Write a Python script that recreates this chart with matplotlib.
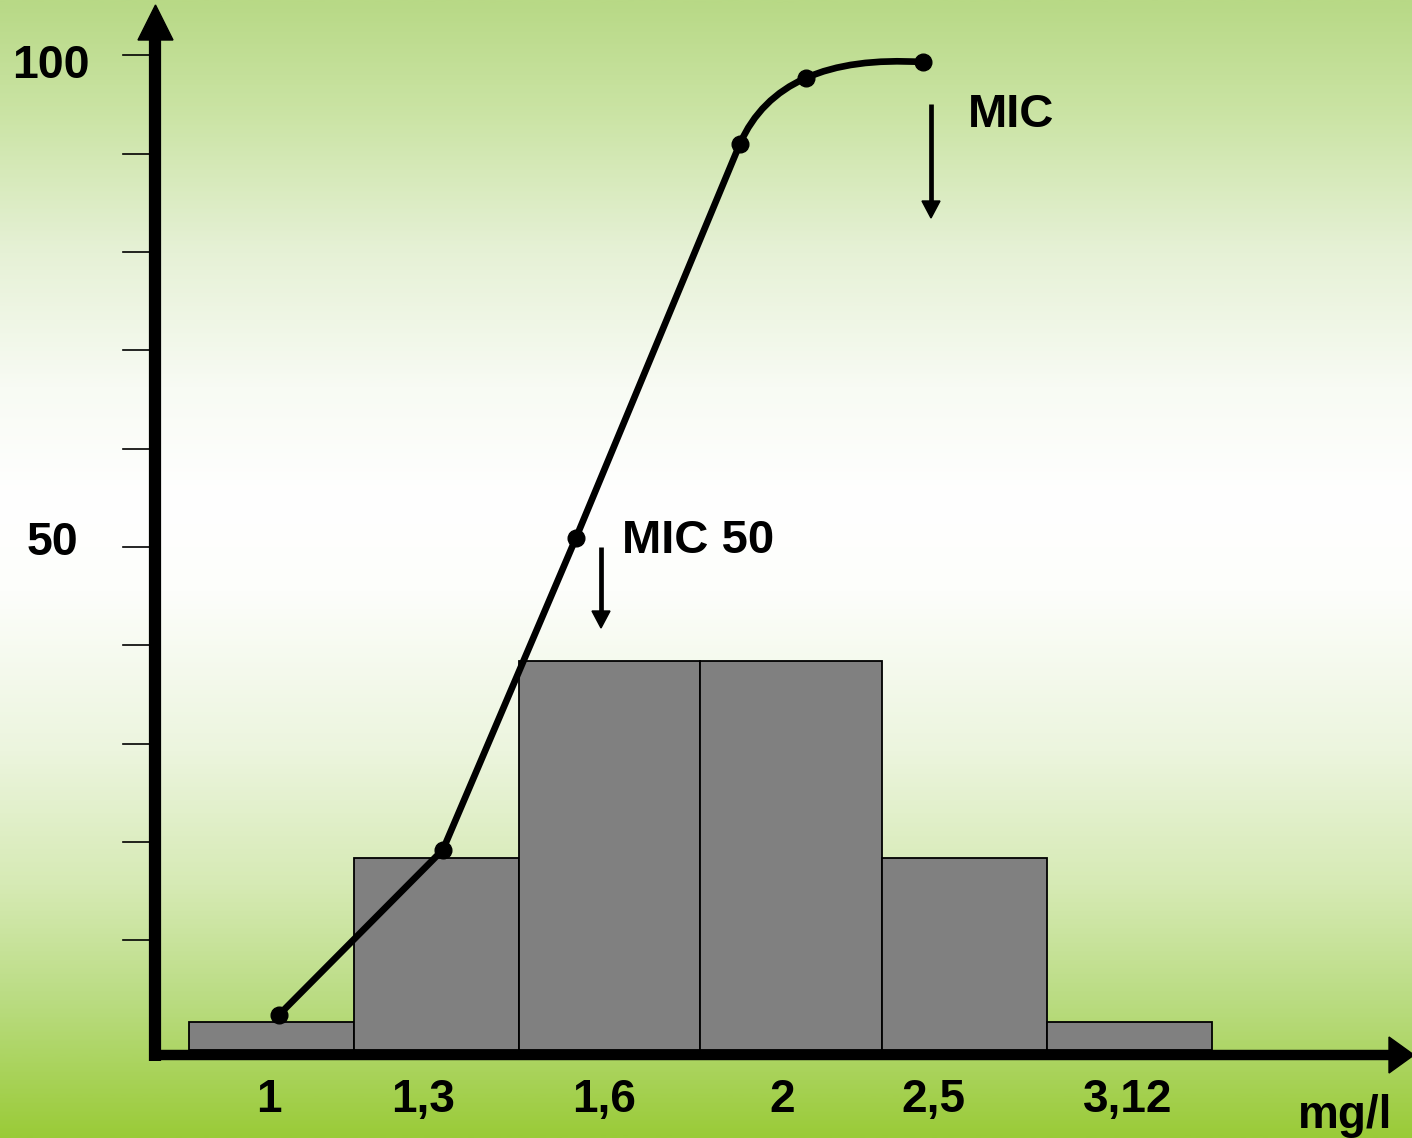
import numpy as np
import matplotlib
matplotlib.use("Agg")
import matplotlib.pyplot as plt
from matplotlib.path import Path
from matplotlib.patches import PathPatch
from matplotlib.colors import LinearSegmentedColormap

# ---------------- data ----------------
bin_edges = [0, 1, 2, 3.1, 4.2, 5.2, 6.2]          # concentration bins (class units)
bar_heights = [2.9, 19.6, 39.6, 39.6, 19.6, 2.9]   # % of strains per class
bar_base = -1.2
tick_labels = ["1", "1,3", "1,6", "2", "2,5", "3,12"]
tick_label_pos = [0.485, 1.418, 2.515, 3.594, 4.509, 5.69]
cum_x = [0.545, 1.539, 2.345, 3.339, 3.739, 4.448]  # cumulative curve points
cum_y = [2.4, 19.2, 50.9, 91.0, 97.7, 99.3]
curve_ctrl = (3.58, 100.2)                           # bend of the plateau
y_ticks = [10, 20, 30, 40, 50, 60, 70, 80, 90, 100]
y_labels = {100: "100", 50: "50"}
mic50_x = 2.497

# ---------------- layout helpers ----------------
W, H = 1412, 1138
X0, XS = 189.0, 165.0
Y0, YS = 1038.5, 9.833


def PX(px):
    return (px - X0) / XS


def PY(py):
    return (Y0 - py) / YS


fig = plt.figure(figsize=(W / 100, H / 100), dpi=100)
ax = fig.add_axes([0, 0, 1, 1])
ax.axis("off")
xl = (PX(0), PX(W))
yl = (PY(H), PY(0))

# background gradient
stops = [
    (0.00, (184, 217, 134)),
    (0.10, (203, 228, 165)),
    (0.22, (230, 241, 214)),
    (0.34, (248, 251, 244)),
    (0.44, (255, 255, 255)),
    (0.52, (253, 254, 251)),
    (0.66, (236, 245, 222)),
    (0.78, (214, 234, 180)),
    (0.88, (186, 220, 130)),
    (1.00, (154, 203, 56)),
]
cmap = LinearSegmentedColormap.from_list(
    "bg", [(s, tuple(c / 255 for c in col)) for s, col in stops])
grad = np.linspace(0, 1, 512).reshape(-1, 1)
ax.imshow(grad, cmap=cmap, extent=[xl[0], xl[1], yl[0], yl[1]],
          aspect="auto", origin="upper", zorder=0, interpolation="bilinear")

FONT = dict(family="Liberation Sans", weight="bold", color="black")

# bars
ax.bar(bin_edges[:-1], bar_heights, width=np.diff(bin_edges), bottom=bar_base,
       align="edge", color="#808080", edgecolor="black", linewidth=1.3, zorder=2)

# y tick marks
for v in y_ticks:
    ax.plot([PX(123), PX(150)], [v, v], color="black", lw=1.2, zorder=3)

# y tick labels
ax.text(PX(12), PY(78), y_labels[100], ha="left", va="baseline", fontsize=33.5, **FONT)
ax.text(PX(27), PY(555), y_labels[50], ha="left", va="baseline", fontsize=33.5, **FONT)

# axes lines with arrow heads
ax.plot([PX(155), PX(155)], [PY(1061), PY(38)], color="black", lw=8.8,
        solid_capstyle="butt", zorder=4)
ax.fill([PX(138), PX(173), PX(155.5)], [PY(40), PY(40), PY(5)],
        color="black", zorder=4)
ax.plot([PX(150), PX(1392)], [PY(1055), PY(1055)], color="black", lw=7.5,
        solid_capstyle="butt", zorder=4)
ax.fill([PX(1389), PX(1389), PX(1414)], [PY(1037), PY(1073), PY(1055)],
        color="black", zorder=4)

# x tick labels
for lab, x in zip(tick_labels, tick_label_pos):
    ax.text(x, PY(1112), lab, ha="center", va="baseline", fontsize=33, **FONT)
ax.text(PX(1298), PY(1128), "mg/l", ha="left", va="baseline", fontsize=33, **FONT)

# cumulative curve
verts = [(cum_x[0], cum_y[0]), (cum_x[1], cum_y[1]), (cum_x[2], cum_y[2]),
         (cum_x[3], cum_y[3]), curve_ctrl, (cum_x[5], cum_y[5])]
codes = [Path.MOVETO, Path.LINETO, Path.LINETO, Path.LINETO, Path.CURVE3, Path.CURVE3]
ax.add_patch(PathPatch(Path(verts, codes), fill=False, edgecolor="black",
                       lw=4.8, capstyle="round", joinstyle="round", zorder=5))
ax.plot(cum_x, cum_y, "o", color="black", ms=12, zorder=6)


# MIC arrows
def down_arrow(x, py_top, py_tip):
    head = 17
    ax.plot([x, x], [PY(py_top), PY(py_tip - head + 1)], color="black", lw=3.4,
            solid_capstyle="butt", zorder=5)
    hw = 9 / XS
    ax.fill([x - hw, x + hw, x], [PY(py_tip - head), PY(py_tip - head), PY(py_tip)],
            color="black", zorder=5)


down_arrow(mic50_x, 547, 628)
down_arrow(PX(931), 104, 218)

ax.text(PX(622), PY(553), "MIC 50", ha="left", va="baseline", fontsize=34, **FONT)
ax.text(PX(968), PY(127), "MIC", ha="left", va="baseline", fontsize=34, **FONT)

ax.set_xlim(*xl)
ax.set_ylim(*yl)
fig.savefig("out.png", dpi=100)
